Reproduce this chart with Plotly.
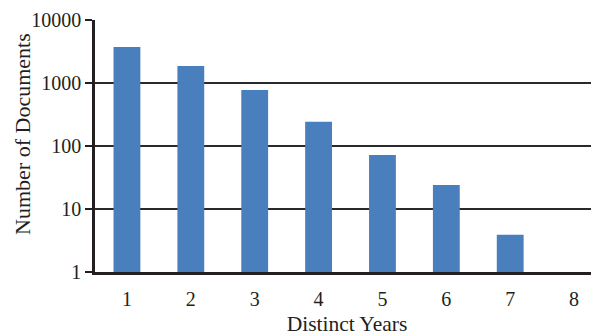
import plotly.graph_objects as go

years = ["1", "2", "3", "4", "5", "6", "7", "8"]
documents = [3730, 1860, 775, 243, 72, 24, 3.9, 1]
y_ticks = [1, 10, 100, 1000, 10000]
y_tick_labels = ["1", "10", "100", "1000", "10000"]

fig = go.Figure()
fig.add_trace(go.Bar(
    x=years, y=documents,
    marker=dict(color="#4a7fbd", line=dict(width=0)),
    width=0.42,
))

font_family = "Liberation Serif, Times New Roman, serif"
fig.update_layout(
    width=591, height=328,
    margin=dict(l=87, r=0, t=12, b=64, autoexpand=False),
    plot_bgcolor="white", paper_bgcolor="white",
    showlegend=False,
    font=dict(family=font_family, size=20, color="#231f20"),
)
fig.update_xaxes(
    type="category", range=[-0.5, 7.39], automargin=False,
    showline=True, linecolor="#231f20", linewidth=2.5,
    ticks="outside", ticklen=7, tickcolor="rgba(0,0,0,0)",
    showgrid=False,
    tickfont=dict(size=20),
    title=dict(text="Distinct Years", font=dict(size=21.5), standoff=22),
)
fig.update_yaxes(
    type="log", range=[0, 4], automargin=False,
    tickvals=y_ticks, ticktext=y_tick_labels,
    showline=True, linecolor="#231f20", linewidth=2.5,
    ticks="outside", ticklen=7, tickcolor="#231f20", tickwidth=2,
    showgrid=True, gridcolor="#2a2a2a", gridwidth=2,
    tickfont=dict(size=20),
)
fig.add_annotation(
    text="Number of Documents", textangle=-90,
    xref="paper", yref="paper", x=0, y=0.548,
    xanchor="center", yanchor="middle", xshift=-72,
    showarrow=False, font=dict(size=22),
)
fig.write_html("out.html")
